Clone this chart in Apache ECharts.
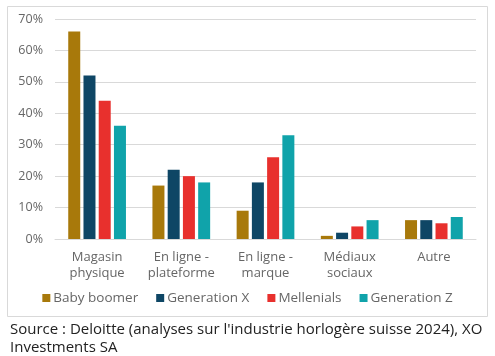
<!DOCTYPE html>
<html><head><meta charset="utf-8">
<script src="https://cdn.jsdelivr.net/npm/echarts@6/dist/echarts.min.js"></script>
<style>html,body{margin:0;padding:0;background:#fff}#c{width:495px;height:356px}</style>
</head><body><div id="c"></div>
<script>
const categories = ['Magasin\nphysique', 'En ligne -\nplateforme', 'En ligne -\nmarque', 'Médiaux\nsociaux', 'Autre'];
const babyBoomer = [66, 17, 9, 1, 6];
const generationX = [52, 22, 18, 2, 6];
const mellenials = [44, 20, 26, 4, 5];
const generationZ = [36, 18, 33, 6, 7];
const seriesNames = ['Baby boomer', 'Generation X', 'Mellenials', 'Generation Z'];
const colors = ['#A8790B', '#0E4665', '#E8302D', '#10A3AA'];
const font = 'Open Sans';
const chart = echarts.init(document.getElementById('c'));
const data = [babyBoomer, generationX, mellenials, generationZ];
chart.setOption({
  animation: false,
  textStyle: {fontFamily: font},
  graphic: [{type: 'rect', shape: {x: 7.5, y: 6.5, width: 480, height: 310}, style: {fill: 'none', stroke: '#d9d9d9', lineWidth: 1}}],
  title: {text: 'Source : Deloitte (analyses sur l\'industrie horlogère suisse 2024), XO\nInvestments SA', left: 5, top: 316,
    textStyle: {fontFamily: font, fontSize: 15, fontWeight: 'normal', color: '#222', lineHeight: 18}},
  legend: {data: seriesNames, bottom: 46, left: 'center', itemWidth: 8, itemHeight: 8, itemGap: 18, icon: 'rect',
    textStyle: {fontFamily: font, fontSize: 13.5, color: '#666', padding: [0, 0, 0, -2]}},
  grid: {left: 55, right: 19, top: 19, bottom: 117},
  xAxis: {type: 'category', data: categories, axisTick: {show: false},
    axisLine: {lineStyle: {color: '#d9d9d9'}},
    axisLabel: {interval: 0, fontFamily: font, fontSize: 13, color: '#666', lineHeight: 16, margin: 10}},
  yAxis: {type: 'value', min: 0, max: 70, interval: 10,
    axisLabel: {formatter: '{value}%', fontFamily: font, fontSize: 12.5, color: '#666', margin: 12},
    splitLine: {lineStyle: {color: '#d9d9d9'}}},
  series: seriesNames.map((n, i) => ({name: n, type: 'bar', data: data[i], barWidth: 12, barGap: '27%',
    itemStyle: {color: colors[i]}}))
});
</script></body></html>
